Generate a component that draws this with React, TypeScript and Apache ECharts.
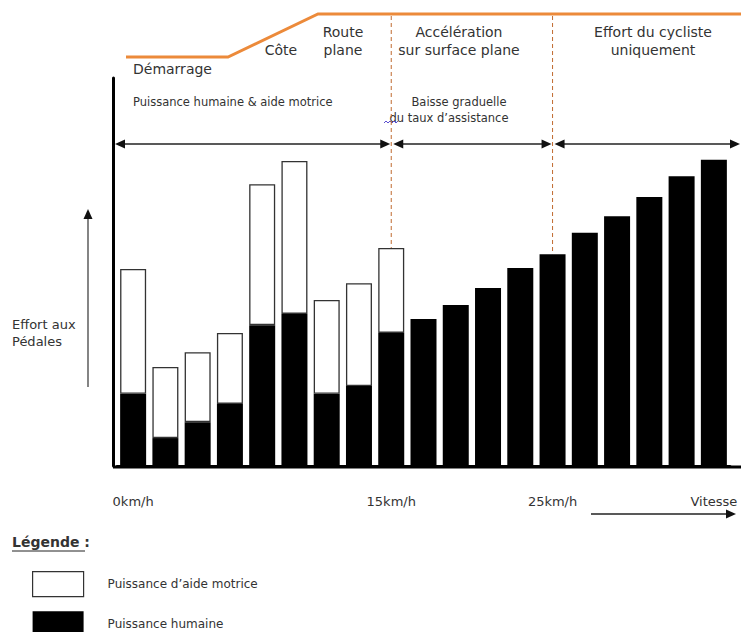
import React, { useEffect, useRef } from "react";
import * as echarts from "echarts";

// ---- data ----
const categories = ["B1","B2","B3","B4","B5","B6","B7","B8","B9","B10","B11","B12","B13","B14","B15","B16","B17","B18","B19"];
const tickLabels: Record<number, string> = { 0: "0km/h", 8: "15km/h", 13: "25km/h", 18: "Vitesse" };
const humanPower = [18.6, 7.2, 11.3, 16.0, 36.3, 39.2, 18.6, 20.6, 34.3, 37.9, 41.5, 45.9, 51.0, 54.6, 60.1, 64.4, 69.3, 74.7, 78.9];
const assistPower: (number | null)[] = [32.2, 18.3, 18.0, 18.3, 36.3, 39.4, 24.2, 26.5, 21.9, null, null, null, null, null, null, null, null, null, null];
const seriesNames = ["Puissance humaine", "Puissance d’aide motrice"];
const phaseBreaks = [8, 13]; // bar indexes where dashed separators sit
const roadLabels = ["Démarrage", "Côte", "Route\nplane", "Accélération\nsur surface plane", "Effort du cycliste\nuniquement"];
const zoneLabels = ["Puissance humaine & aide motrice", "Baisse graduelle", "du taux d’assistance"];
const yAxisTitle = "Effort aux\nPédales";
const legendTitle = "Légende :";

const FONT = "DejaVu Sans";
const ORANGE = "#EC8A3A";
const TXT = "#333";

export default function App() {
  const ref = useRef<HTMLDivElement>(null);
  useEffect(() => {
    if (!ref.current) return;
    const chart = echarts.init(ref.current, null, { renderer: "svg" });
    const option: any = {
      animation: false,
      backgroundColor: "#fff",
      grid: { left: 117, right: 11, top: 78, bottom: 166 },
      xAxis: {
        type: "category",
        data: categories,
        axisLine: { show: true, lineStyle: { color: "#000", width: 3 } },
        axisTick: { show: false },
        axisLabel: {
          interval: 0,
          margin: 29,
          fontFamily: FONT,
          fontSize: 13,
          color: TXT,
          formatter: (_v: string, i: number) => tickLabels[i] ?? "",
        },
        splitLine: { show: false },
      },
      yAxis: {
        type: "value",
        min: 0,
        max: 100,
        offset: 4,
        axisLine: { show: true, lineStyle: { color: "#000", width: 3 } },
        axisTick: { show: false },
        axisLabel: { show: false },
        splitLine: { show: false },
      },
      legend: {
        orient: "vertical",
        left: 32,
        top: 571,
        height: 80,
        padding: 0,
        itemWidth: 51,
        itemHeight: 25,
        itemGap: 14,
        icon: "rect",
        selectedMode: false,
        textStyle: { fontFamily: FONT, fontSize: 12, color: TXT, padding: [0, 0, 0, 19] },
        data: [
          { name: seriesNames[1], itemStyle: { color: "#fff", borderColor: "#333", borderWidth: 1.2 } },
          { name: seriesNames[0], itemStyle: { color: "#000", borderWidth: 0 } },
        ],
      },
      series: [
        {
          name: seriesNames[0],
          type: "bar",
          stack: "effort",
          barWidth: 26,
          data: humanPower,
          itemStyle: { color: "#000", borderColor: "#000", borderWidth: 0 },
        },
        {
          name: seriesNames[1],
          type: "bar",
          stack: "effort",
          barWidth: 26,
          data: assistPower,
          itemStyle: { color: "#fff", borderColor: "#333", borderWidth: 1.3 },
        },
      ],
    };
    chart.setOption(option);

    const toPx = (i: number, v: number) => chart.convertToPixel({ xAxisIndex: 0, yAxisIndex: 0 } as any, [i, v]) as number[];
    const base = toPx(0, 0);
    const baseY = base[1];
    const axisX = 113;
    const breaksX = phaseBreaks.map((i) => toPx(i, 0)[0]);
    const breakTops = phaseBreaks.map((i) => toPx(i, humanPower[i] + (assistPower[i] ?? 0))[1]);

    const text = (t: string, x: number, y: number, size: number, align: string = "left", extra: any = {}) => ({
      type: "text",
      x,
      y,
      style: { text: t, fontFamily: FONT, fontSize: size, fill: TXT, align, verticalAlign: "middle", lineHeight: size + 4, ...extra },
      silent: true,
    });
    const arrowHead = (x: number, y: number, dir: "l" | "r" | "u") => {
      const L = 10, H = 4.5;
      let pts: number[][];
      if (dir === "r") pts = [[x, y], [x - L, y - H], [x - L, y + H]];
      else if (dir === "l") pts = [[x, y], [x + L, y - H], [x + L, y + H]];
      else pts = [[x, y], [x - H, y + L], [x + H, y + L]];
      return { type: "polygon", shape: { points: pts }, style: { fill: "#111" }, silent: true };
    };
    const dblArrow = (x1: number, x2: number, y: number) => [
      { type: "line", shape: { x1: x1 + 6, y1: y, x2: x2 - 6, y2: y }, style: { stroke: "#222", lineWidth: 1.5 }, silent: true },
      arrowHead(x1, y, "l"),
      arrowHead(x2, y, "r"),
    ];

    const arrowY = 144;
    const graphic: any[] = [
      // road profile
      { type: "polyline", shape: { points: [[126, 57], [228, 57], [318, 14], [741, 14]] }, style: { stroke: ORANGE, lineWidth: 3, fill: null }, silent: true },
      text(roadLabels[0], 133, 69, 14),
      text(roadLabels[1], 281, 50, 14, "center"),
      text(roadLabels[2], 343, 41, 14, "center"),
      text(roadLabels[3], 459, 41, 14, "center"),
      text(roadLabels[4], 653, 41, 14, "center"),
      // zone labels
      text(zoneLabels[0], 133, 102, 11.5),
      text(zoneLabels[1], 459, 102, 11.5, "center"),
      text(zoneLabels[2], 449, 118, 11.5, "center"),
      { type: "polyline", shape: { points: [[384, 123], [386, 121], [388, 123], [390, 121], [392, 123], [394, 121], [396, 123], [398, 121]] }, style: { stroke: "#5a4fcf", lineWidth: 1, fill: null }, silent: true },
      // dashed separators
      ...breaksX.map((x, k) => ({
        type: "line",
        shape: { x1: x, y1: 16, x2: x, y2: breakTops[k] },
        style: { stroke: "#c06a30", lineWidth: 1, lineDash: [4, 3] },
        silent: true,
        z: 1,
      })),
      // zone arrows
      ...dblArrow(axisX + 2, breaksX[0] - 1, arrowY),
      ...dblArrow(breaksX[0] + 2, breaksX[1] - 1, arrowY),
      ...dblArrow(breaksX[1] + 2, 740, arrowY),
      // y arrow & title
      { type: "line", shape: { x1: 88, y1: 387, x2: 88, y2: 216 }, style: { stroke: "#333", lineWidth: 1.2 }, silent: true },
      arrowHead(88, 209, "u"),
      text(yAxisTitle, 12, 333, 13),
      // axes extensions
      { type: "line", shape: { x1: axisX, y1: baseY + 1, x2: 741, y2: baseY + 1 }, style: { stroke: "#000", lineWidth: 3 }, silent: true },
      // speed arrow
      { type: "line", shape: { x1: 591, y1: 514, x2: 728, y2: 514 }, style: { stroke: "#222", lineWidth: 1.3 }, silent: true },
      arrowHead(736, 514, "r"),
      // legend title
      text(legendTitle, 12, 542, 14, "left", { fontWeight: "bold" }),
      { type: "line", shape: { x1: 12, y1: 551, x2: 85, y2: 551 }, style: { stroke: "#222", lineWidth: 1 }, silent: true },
    ];
    chart.setOption({ graphic });

    return () => chart.dispose();
  }, []);
  return <div ref={ref} style={{ position: "absolute", left: 0, top: 0, width: 741, height: 632 }} />;
}
